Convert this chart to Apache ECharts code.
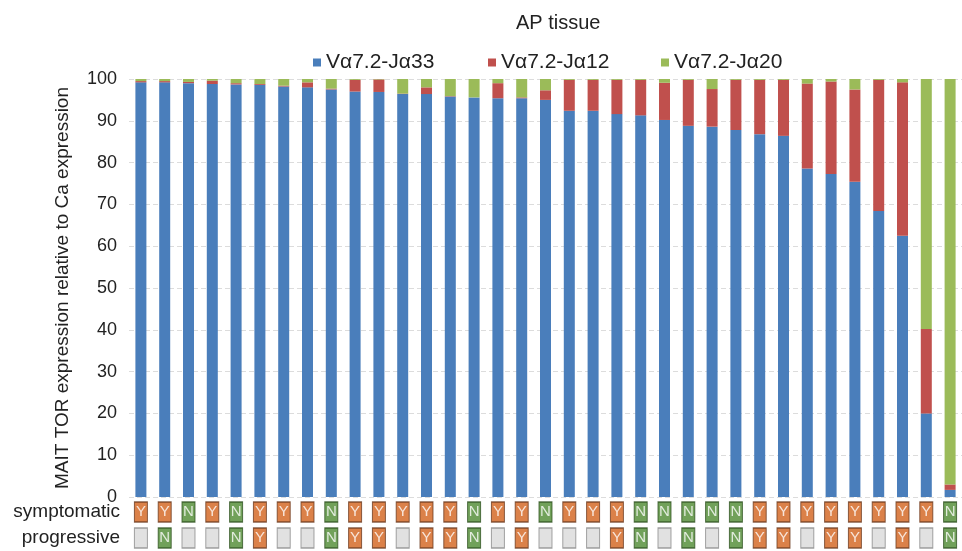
<!DOCTYPE html>
<html>
<head>
<meta charset="utf-8">
<script src="https://cdn.jsdelivr.net/npm/echarts@6/dist/echarts.min.js"></script>
<style>
  html, body { margin: 0; padding: 0; background: #fff; }
  #chart { width: 962px; height: 551px; }
</style>
</head>
<body>
<div id="chart"></div>
<script>
// Percentage of each TRAV1-2 (Vα7.2) junction per sample, AP tissue
const samples = Array.from({ length: 35 }, (_, i) => 'S' + (i + 1));

const ja33 = [99.2, 99.2, 99.0, 98.8, 98.7, 98.6, 98.2, 98.0, 97.5, 97.0,
              96.9, 96.4, 96.4, 95.8, 95.6, 95.4, 95.4, 95.0, 92.4, 92.4,
              91.6, 91.3, 90.2, 88.8, 88.6, 87.8, 86.8, 86.4, 78.6, 77.3,
              75.4, 68.4, 62.5, 20.0, 1.7];
const ja12 = [0.3, 0.3, 0.3, 0.8, 0.3, 0.2, 0.2, 1.2, 0.2, 2.8,
              3.0, 0.1, 1.6, 0.1, 0.0, 3.6, 0.2, 2.3, 7.4, 7.4,
              8.2, 8.5, 8.9, 11.0, 9.0, 12.0, 13.0, 13.4, 20.3, 22.1,
              22.1, 31.4, 36.7, 20.2, 1.3];
const ja20 = [0.5, 0.5, 0.7, 0.4, 1.0, 1.2, 1.6, 0.8, 2.3, 0.2,
              0.1, 3.5, 2.0, 4.1, 4.4, 1.0, 4.4, 2.7, 0.2, 0.2,
              0.2, 0.2, 0.9, 0.2, 2.4, 0.2, 0.2, 0.2, 1.1, 0.6,
              2.5, 0.2, 0.8, 59.8, 97.0];

// Clinical annotations (empty string = not available)
const symptomatic = ['Y','Y','N','Y','N','Y','Y','Y','N','Y',
                     'Y','Y','Y','Y','N','Y','Y','N','Y','Y',
                     'Y','N','N','N','N','N','Y','Y','Y','Y',
                     'Y','Y','Y','Y','N'];
const progressive = ['','N','','','N','Y','','','N','Y',
                     'Y','','Y','Y','N','','Y','','','',
                     'Y','N','','N','','N','Y','Y','','Y',
                     'Y','','Y','','N'];

const rowNames = ['progressive', 'symptomatic'];
const yTicks = { min: 0, max: 100, interval: 10 };

const seriesNames = ['Vα7.2-Jα33', 'Vα7.2-Jα12', 'Vα7.2-Jα20'];
const colors = ['#4a7ebb', '#c0504d', '#9bbb59'];
const legendLeft = [308, 483, 656];

const flagFill = { Y: '#d2611c', N: '#4d8a31', '': '#d9d9d9' };
const flagBorder = { Y: '#6b3a1e', N: '#2f5220', '': '#8a8a8a' };

function flagData(values, row) {
  return values.map((v, i) => ({
    value: [i, row, v],
    itemStyle: { color: flagFill[v], borderColor: flagBorder[v], borderWidth: 1.2 }
  }));
}

const FONT = 'Liberation Sans, Arial, sans-serif';

const chart = echarts.init(document.getElementById('chart'), null, { renderer: 'canvas' });

chart.setOption({
  animation: false,
  textStyle: { fontFamily: FONT },
  title: {
    text: 'AP tissue',
    left: 511,
    top: 8,
    textStyle: { fontFamily: FONT, fontSize: 20, fontWeight: 'normal', color: '#222' }
  },
  // one legend block per series so each entry sits at its own spot
  legend: seriesNames.map((name, k) => ({
    data: [name],
    left: legendLeft[k],
    top: 47,
    icon: 'rect',
    itemWidth: 8,
    itemHeight: 8,
    textStyle: { fontFamily: FONT, fontSize: 21, color: '#222' }
  })),
  grid: [
    { left: 129, top: 79, width: 840, height: 418 },
    { left: 129, top: 499, width: 840, height: 56 }
  ],
  xAxis: [
    {
      type: 'category', gridIndex: 0, data: samples,
      axisLine: { show: false }, axisTick: { show: false }, axisLabel: { show: false }
    },
    {
      type: 'category', gridIndex: 1, data: samples,
      axisLine: { show: false }, axisTick: { show: false }, axisLabel: { show: false }
    }
  ],
  yAxis: [
    {
      type: 'value', gridIndex: 0,
      min: yTicks.min, max: yTicks.max, interval: yTicks.interval,
      name: 'MAIT TOR expression relative to Ca expression',
      nameLocation: 'middle',
      nameGap: 57,
      nameTextStyle: { fontFamily: FONT, fontSize: 19, color: '#222' },
      axisLine: { show: false }, axisTick: { show: false },
      axisLabel: { fontFamily: FONT, fontSize: 18, color: '#222', margin: 12 },
      splitLine: { lineStyle: { color: '#dcdcdc', type: [5, 3] } }
    },
    {
      type: 'category', gridIndex: 1, data: rowNames,
      axisLine: { show: false }, axisTick: { show: false }, splitLine: { show: false },
      axisLabel: { fontFamily: FONT, fontSize: 19, color: '#222', margin: 9 }
    }
  ],
  series: [
    ...[ja33, ja12, ja20].map((vals, k) => ({
      name: seriesNames[k],
      type: 'bar',
      stack: 'total',
      xAxisIndex: 0, yAxisIndex: 0,
      barWidth: 11,
      itemStyle: { color: colors[k] },
      data: vals
    })),
    ...[[symptomatic, 1], [progressive, 0]].map(([vals, row]) => ({
      type: 'scatter',
      xAxisIndex: 1, yAxisIndex: 1,
      symbol: 'rect',
      symbolSize: [13, 20],
      data: flagData(vals, row),
      label: {
        show: true,
        position: 'inside',
        formatter: p => p.value[2],
        color: '#fff',
        fontFamily: FONT,
        fontSize: 15
      }
    }))
  ]
});
</script>
</body>
</html>
